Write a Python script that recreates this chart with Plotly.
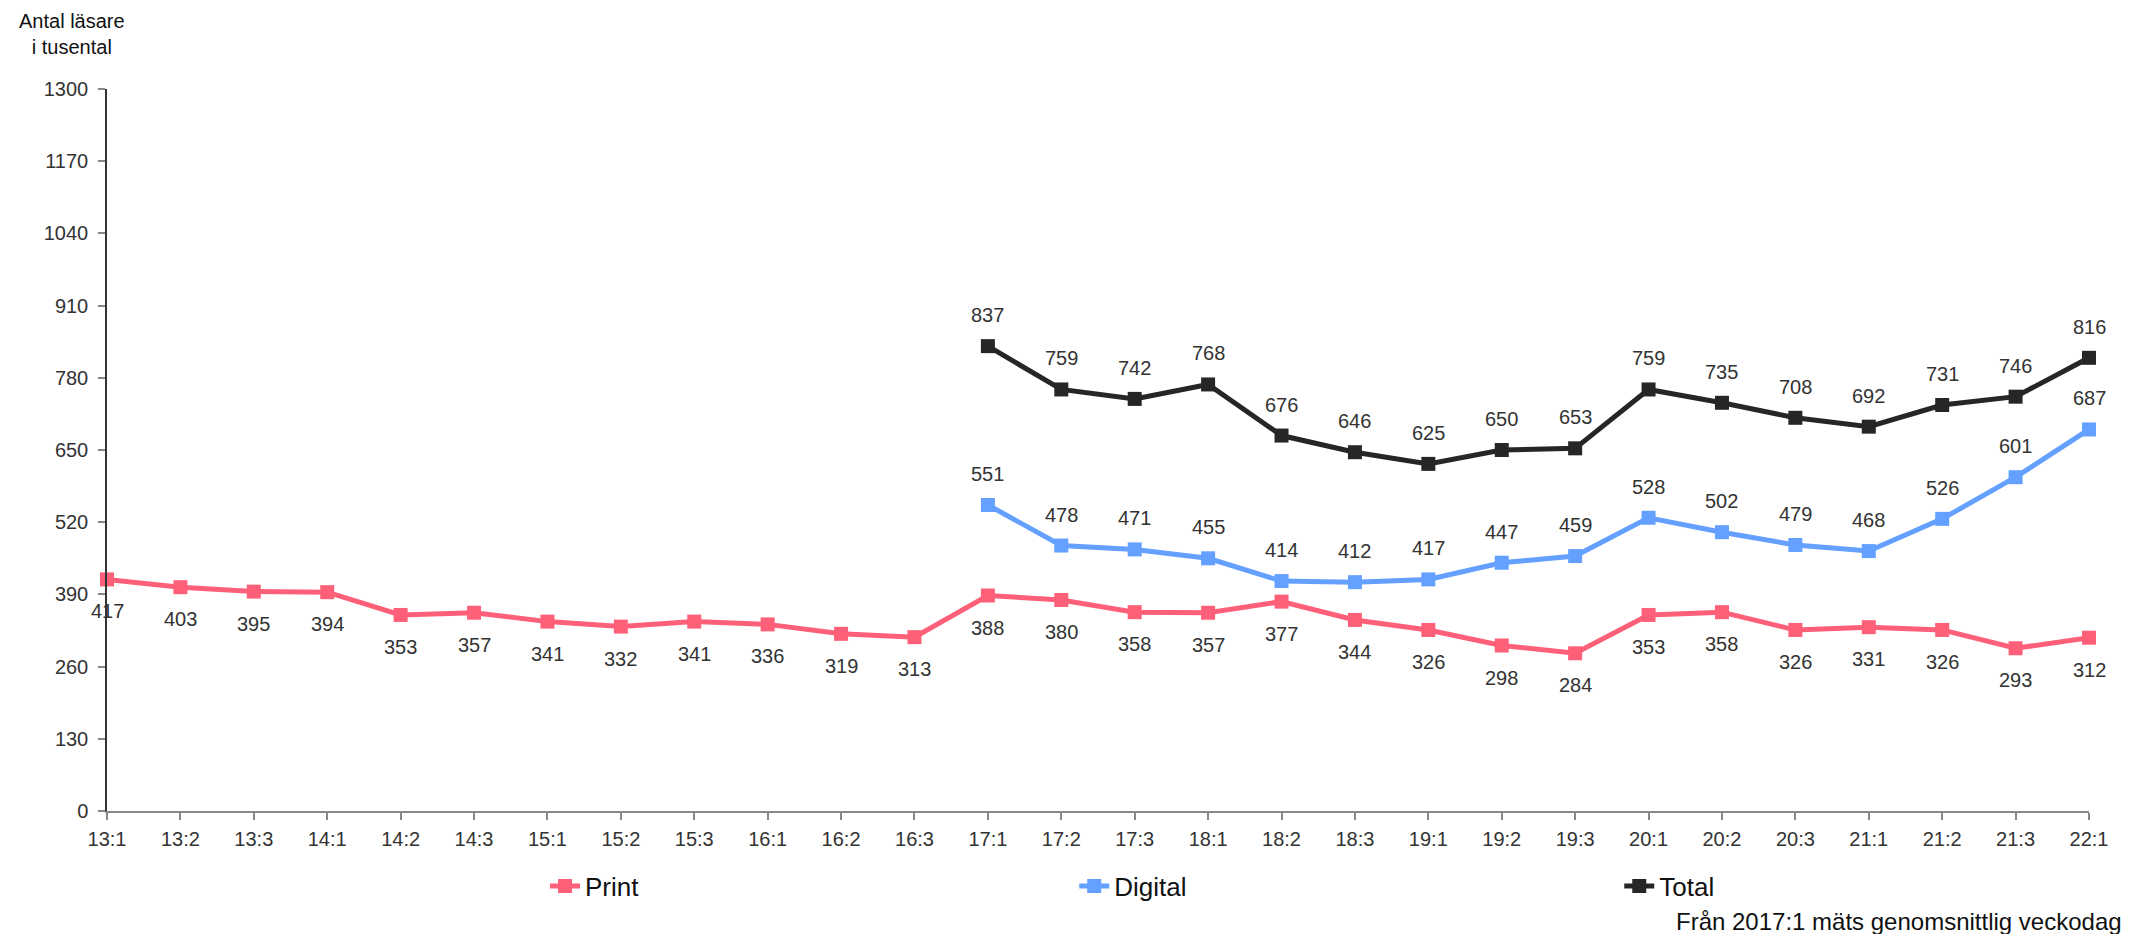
import plotly.graph_objects as go

categories = ["13:1","13:2","13:3","14:1","14:2","14:3","15:1","15:2","15:3","16:1","16:2","16:3",
              "17:1","17:2","17:3","18:1","18:2","18:3","19:1","19:2","19:3","20:1","20:2","20:3",
              "21:1","21:2","21:3","22:1"]
print_vals = [417,403,395,394,353,357,341,332,341,336,319,313,388,380,358,357,377,344,326,298,284,
              353,358,326,331,326,293,312]
digital_cats = categories[12:]
digital_vals = [551,478,471,455,414,412,417,447,459,528,502,479,468,526,601,687]
total_vals = [837,759,742,768,676,646,625,650,653,759,735,708,692,731,746,816]
y_ticks = [0,130,260,390,520,650,780,910,1040,1170,1300]

PINK = "#FF6079"
BLUE = "#64A0FF"
BLACK = "#262626"
TXT = "#333333"
FONT = "Liberation Sans, Arial, sans-serif"

x_all = list(range(len(categories)))
x_dig = [categories.index(c) for c in digital_cats]

fig = go.Figure()
series = [("Print", x_all, print_vals, PINK, "legend", 0.221),
          ("Digital", x_dig, digital_vals, BLUE, "legend2", 0.488),
          ("Total", x_dig, total_vals, BLACK, "legend3", 0.763)]
for name, xs, ys, col, lg, _ in series:
    fig.add_trace(go.Scatter(x=xs, y=ys, name=name, mode="lines+markers",
                             line=dict(color=col, width=5),
                             marker=dict(symbol="square", size=14, color=col),
                             cliponaxis=False, legend=lg, hoverinfo="skip"))

annots = []
for xs, ys, shift in [(x_all, print_vals, -32), (x_dig, digital_vals, 31), (x_dig, total_vals, 31)]:
    for xv, yv in zip(xs, ys):
        annots.append(dict(x=xv, y=yv, xref="x", yref="y", text=str(yv), showarrow=False,
                           yshift=shift, font=dict(size=20, color=TXT, family=FONT)))

annots.append(dict(x=-0.0177, y=1.0755, xref="paper", yref="paper", text="Antal läsare<br>i tusental",
                   showarrow=False, align="center", xanchor="center", yanchor="middle",
                   font=dict(size=20, color="#111111", family=FONT)))
annots.append(dict(x=1.0177, y=-0.1524, xref="paper", yref="paper",
                   text="Från 2017:1 mäts genomsnittlig veckodag",
                   showarrow=False, xanchor="right", yanchor="middle",
                   font=dict(size=24, color="#111111", family=FONT)))

legend_common = dict(orientation="h", y=-0.104, xanchor="left", yanchor="middle",
                     bgcolor="rgba(0,0,0,0)", font=dict(size=26, color="#111111", family=FONT))
lay = {}
for name, xs, ys, col, lg, lx in series:
    lay[lg] = dict(legend_common, x=lx)

fig.update_layout(
    width=2130, height=934,
    margin=dict(l=107, r=41, t=89, b=123),
    plot_bgcolor="white", paper_bgcolor="white",
    font=dict(family=FONT, color=TXT, size=20),
    showlegend=True,
    annotations=annots,
    xaxis=dict(range=[0, len(categories) - 1], tickmode="array", tickvals=x_all, ticktext=categories,
               showgrid=False, zeroline=False, showline=True, linecolor="#888888", linewidth=2,
               ticks="outside", ticklen=7, tickcolor="#888888", tickwidth=1.5, ticklabelstandoff=2,
               tickfont=dict(size=20, color=TXT, family=FONT)),
    yaxis=dict(range=[0, 1300], tickmode="array", tickvals=y_ticks,
               showgrid=False, zeroline=False, showline=True, linecolor="#333333", linewidth=1.5,
               ticks="outside", ticklen=7, tickcolor="#888888", tickwidth=1.5, ticklabelstandoff=6,
               tickfont=dict(size=20, color=TXT, family=FONT)),
    **lay,
)

fig.write_html("out.html", config={"displayModeBar": False},
               post_script="document.body.style.margin='0';document.body.style.overflow='hidden';")
